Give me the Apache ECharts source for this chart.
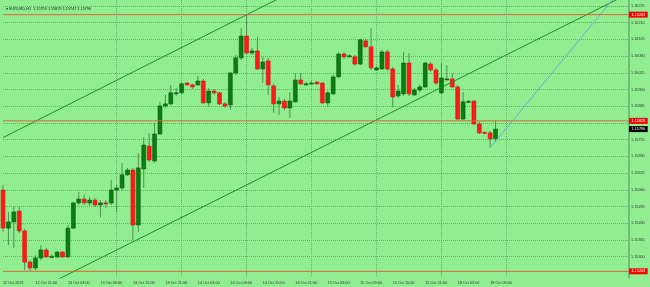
<!DOCTYPE html>
<html><head><meta charset="utf-8">
<script src="https://cdn.jsdelivr.net/npm/echarts@6/dist/echarts.min.js"></script>
<style>html,body{margin:0;padding:0;background:#90ee90}#c{width:650px;height:287px}</style>
</head><body><div id="c"></div>
<script>
const timeLabels = ['12 Oct 2021','12 Oct 21:00','13 Oct 03:00','13 Oct 09:00','13 Oct 15:00','13 Oct 21:00','14 Oct 03:00','14 Oct 09:00','14 Oct 15:00','14 Oct 21:00','15 Oct 03:00','15 Oct 09:00','15 Oct 15:00','15 Oct 21:00','18 Oct 03:00','18 Oct 09:00'];
const labelBars = [0,6,12,18,24,30,36,42,48,54,60,66,72,78,84,90];
const gridBars = [9,21,33,45,57,69,81,93,105];
const opens = [1.15559,1.15411,1.15435,1.15477,1.15400,1.15279,1.15256,1.15295,1.15326,1.15300,1.15299,1.15318,1.15299,1.15411,1.15509,1.15524,1.15509,1.15520,1.15501,1.15509,1.15509,1.15559,1.15567,1.15618,1.15637,1.15423,1.15641,1.15730,1.15672,1.15777,1.15886,1.15894,1.15933,1.15937,1.15975,1.15968,1.15968,1.15983,1.15898,1.15944,1.15937,1.15894,1.15890,1.16014,1.16073,1.16158,1.16092,1.16100,1.16030,1.16061,1.15964,1.15894,1.15905,1.15878,1.15902,1.15987,1.15970,1.15973,1.15979,1.15975,1.15898,1.15933,1.15999,1.16088,1.16079,1.16077,1.16049,1.16139,1.16116,1.16026,1.16030,1.16096,1.16030,1.15925,1.15933,1.16053,1.15929,1.15948,1.15960,1.16049,1.16026,1.15937,1.15990,1.15991,1.15960,1.15835,1.15903,1.15905,1.15816,1.15783,1.15781,1.15759];
const closes = [1.15411,1.15435,1.15474,1.15400,1.15279,1.15256,1.15295,1.15326,1.15299,1.15301,1.15318,1.15299,1.15411,1.15509,1.15524,1.15509,1.15520,1.15501,1.15509,1.15507,1.15559,1.15567,1.15618,1.15637,1.15423,1.15645,1.15734,1.15676,1.15777,1.15886,1.15894,1.15937,1.15937,1.15972,1.15968,1.15960,1.15983,1.15898,1.15944,1.15937,1.15894,1.15886,1.16014,1.16073,1.16158,1.16092,1.16100,1.16030,1.16057,1.15968,1.15894,1.15905,1.15878,1.15905,1.15987,1.15972,1.15972,1.15975,1.15972,1.15898,1.15937,1.15999,1.16088,1.16077,1.16081,1.16049,1.16143,1.16116,1.16034,1.16034,1.16096,1.16030,1.15921,1.15944,1.16053,1.15933,1.15948,1.15960,1.16053,1.16026,1.15975,1.15995,1.15991,1.15960,1.15835,1.15902,1.15904,1.15816,1.15781,1.15779,1.15758,1.15796];
const lows = [1.15396,1.15345,1.15334,1.15392,1.15248,1.15245,1.15248,1.15287,1.15295,1.15295,1.15295,1.15295,1.15295,1.15407,1.15501,1.15501,1.15497,1.15493,1.15454,1.15489,1.15501,1.15474,1.15559,1.15614,1.15365,1.15396,1.15567,1.15668,1.15664,1.15773,1.15878,1.15890,1.15925,1.15933,1.15964,1.15952,1.15964,1.15894,1.15882,1.15929,1.15890,1.15878,1.15870,1.16007,1.16065,1.16084,1.16084,1.16026,1.15975,1.15929,1.15859,1.15851,1.15870,1.15839,1.15898,1.15968,1.15964,1.15968,1.15968,1.15894,1.15882,1.15929,1.15995,1.16069,1.16073,1.16042,1.16045,1.16112,1.16026,1.16022,1.16026,1.16022,1.15882,1.15917,1.15925,1.15925,1.15925,1.15940,1.15956,1.16018,1.15968,1.15929,1.15987,1.15956,1.15832,1.15832,1.15898,1.15812,1.15777,1.15777,1.15723,1.15747];
const highs = [1.15579,1.15474,1.15493,1.15493,1.15407,1.15287,1.15306,1.15345,1.15334,1.15310,1.15322,1.15322,1.15423,1.15513,1.15551,1.15540,1.15532,1.15528,1.15520,1.15520,1.15598,1.15579,1.15664,1.15645,1.15645,1.15703,1.15765,1.15781,1.15820,1.15902,1.15929,1.15968,1.15956,1.15979,1.15979,1.15972,1.16003,1.15991,1.15956,1.15952,1.15940,1.15902,1.16018,1.16084,1.16189,1.16241,1.16112,1.16154,1.16077,1.16073,1.15972,1.15921,1.15913,1.15940,1.16014,1.16014,1.15979,1.15983,1.15983,1.15979,1.15944,1.16007,1.16096,1.16096,1.16088,1.16084,1.16147,1.16147,1.16189,1.16042,1.16104,1.16104,1.16038,1.15968,1.16096,1.16092,1.15956,1.15968,1.16057,1.16057,1.16034,1.16053,1.16045,1.16014,1.15968,1.15940,1.15909,1.15909,1.15824,1.15789,1.15789,1.15829];
const priceTicks = [1.15300,1.15365,1.15430,1.15495,1.15560,1.15625,1.15690,1.15755,1.15820,1.15885,1.15950,1.16015,1.16080,1.16145,1.16210,1.16275];
const levelLines = [1.16241, 1.15828, 1.15243];
const lastPrice = 1.15796;
const channelUpper = [[0, 1.15763], [52, 1.16315]];
const channelLower = [[10, 1.15210], [114, 1.16306]];
const blueLine = [[90, 1.15723], [113, 1.16309]];
const header = '\u25BE EURUSD,H1  1.15759 1.15829 1.15747 1.15796';

const FONT = 'Liberation Sans';
const X_MAX = 115.65;
const chart = echarts.init(document.getElementById('c'), null, {renderer: 'canvas'});
const candleData = opens.map((o, i) => [i, o, closes[i], lows[i], highs[i]]);

function renderCandle(params, api) {
  const i = api.value(0), o = api.value(1), c = api.value(2), l = api.value(3), h = api.value(4);
  const pO = api.coord([i, o]), pC = api.coord([i, c]);
  const pL = api.coord([i, l]), pH = api.coord([i, h]);
  const w = api.size([1, 0])[0] * 0.72;
  const x = pO[0];
  const up = c >= o;
  const top = Math.min(pO[1], pC[1]);
  const hgt = Math.max(Math.abs(pO[1] - pC[1]), 1);
  return {
    type: 'group',
    children: [
      {type: 'line', shape: {x1: x, y1: pH[1], x2: x, y2: pL[1]}, style: {stroke: '#4f8f55', lineWidth: 1}},
      {type: 'rect', shape: {x: x - w / 2, y: top, width: w, height: hgt},
       style: {fill: up ? '#0b7d10' : '#ff1a1a', stroke: up ? '#0a5e0e' : '#e01010', lineWidth: 0.6}}
    ]
  };
}

function levelSeries(v, lineColor, boxColor, showLine) {
  return {
    type: 'line', data: [[0, v], [X_MAX, v]], symbol: 'none', silent: true, z: 5,
    lineStyle: {color: lineColor, width: 1, opacity: showLine ? 1 : 0},
    endLabel: {show: true, distance: 0, formatter: () => v.toFixed(5),
      backgroundColor: boxColor, color: '#fff', fontSize: 3.8, padding: [1, 2.5], fontFamily: FONT}
  };
}

const series = [
  {type: 'custom', renderItem: renderCandle, data: candleData, clip: false, z: 3,
   encode: {x: 0, y: [1, 2, 3, 4]}},
  {type: 'line', data: channelUpper, symbol: 'none', lineStyle: {color: '#1f8a25', width: 1}, z: 4},
  {type: 'line', data: channelLower, symbol: 'none', lineStyle: {color: '#1f8a25', width: 1}, z: 4},
  {type: 'line', data: blueLine, symbol: 'none', lineStyle: {color: '#72a9d8', width: 1}, z: 4}
];
levelLines.forEach(v => series.push(levelSeries(v, '#e0643c', '#ff0000', true)));
series.push(levelSeries(lastPrice, '#000', '#000', false));

const option = {
  backgroundColor: '#90ee90',
  animation: false,
  title: {text: header, left: 1, top: 2, textStyle: {fontSize: 3.8, color: '#222', fontWeight: 'normal', fontFamily: FONT}},
  grid: {left: 1, right: 21, top: 0, bottom: 9, containLabel: false},
  xAxis: {
    type: 'value', min: 0, max: X_MAX,
    axisLine: {show: false, onZero: false},
    axisTick: {show: false, customValues: gridBars},
    splitLine: {show: true, showMinLine: false, showMaxLine: false, lineStyle: {type: 'dotted', color: '#6aa874', width: 1}},
    axisLabel: {customValues: labelBars, formatter: v => timeLabels[labelBars.indexOf(v)] || '',
      align: 'left', fontSize: 3.8, color: '#333', margin: 3, fontFamily: FONT}
  },
  yAxis: {
    type: 'value', position: 'right', min: 1.15217, max: 1.16298, scale: true,
    axisLine: {show: true, onZero: false, lineStyle: {color: '#6aa874', width: 1.5}},
    axisTick: {show: false, customValues: priceTicks},
    splitLine: {show: true, lineStyle: {type: 'dotted', color: '#6aa874', width: 1}},
    axisLabel: {customValues: priceTicks, formatter: v => v.toFixed(5), fontSize: 3.8, color: '#333', margin: 2, fontFamily: FONT}
  },
  series: series
};
chart.setOption(option);
</script></body></html>
